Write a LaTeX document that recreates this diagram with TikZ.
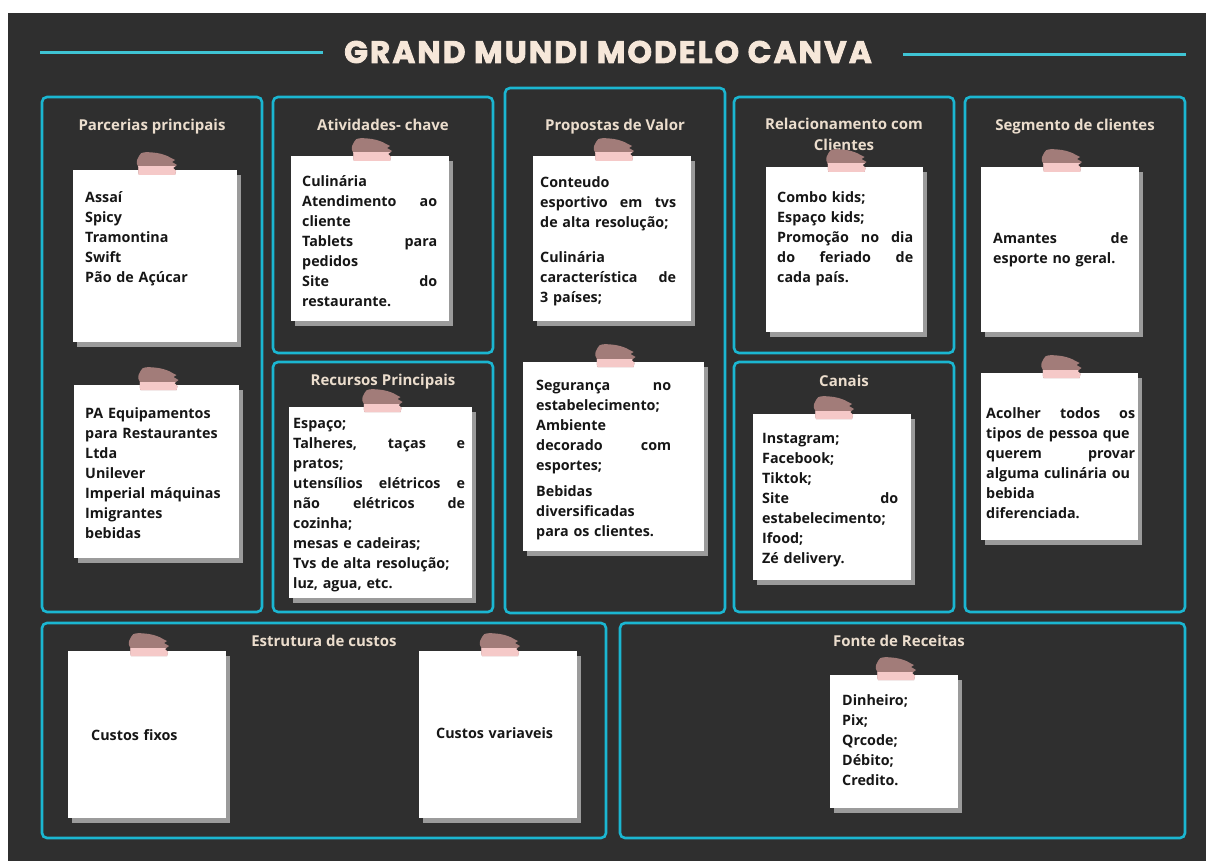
\documentclass[tikz,border=0pt]{standalone}
\usepackage{fontspec}
\setmainfont{Open Sans}
\newfontfamily\titlefont{Poppins}[LetterSpace=7, BoldFeatures={FakeBold=2.6}]
\usetikzlibrary{shadows}

\definecolor{bg}{HTML}{2F2F2F}
\definecolor{frame}{HTML}{1BB6D1}
\definecolor{rulecol}{HTML}{3FC4D4}
\definecolor{head}{HTML}{EBDDCD}
\definecolor{titlecol}{HTML}{F6E7D9}
\definecolor{ink}{HTML}{161616}
\definecolor{shadowcol}{HTML}{9B9B9B}
\definecolor{tapedark}{HTML}{A27C79}
\definecolor{tapelight}{HTML}{F5C9C8}

\tikzset{
  panel/.style={draw=frame, line width=2.6pt, rounded corners=5pt,
    anchor=north west, inner sep=0pt, outer sep=0pt},
  heading/.style={text=head, font=\bfseries\fontsize{15}{21}\selectfont,
    inner sep=0pt, anchor=base, align=center},
  note/.style={fill=white, anchor=north west, inner sep=0pt, outer sep=0pt,
    general shadow={fill=shadowcol, shadow xshift=4pt, shadow yshift=-5pt}},
  notetext/.style={anchor=north west, inner sep=0pt, text=ink,
    font=\bfseries\fontsize{14.3}{20}\selectfont, align=left, text width=#1},
  rulerline/.style={draw=rulecol, line width=3pt},
  tapeshape/.style={insert path={
    (-18,-14) .. controls (-17,-19) and (-8,-18) .. (0,-17)
    .. controls (6,-16) and (11,-14) .. (14,-12)
    -- (18,-10) -- (15,-8) -- (20,-5) -- (16,-2) -- (19,1) -- (18,5)
    -- (-18,5) .. controls (-20,1) and (-17,-2) .. (-20,-6)
    .. controls (-21,-10) and (-19,-11) .. (-18,-14) -- cycle}}
}

% sticky note: name, left, top, width, height
\newcommand\stickynote[5]{%
  \node[note, minimum width=#4pt, minimum height=#5pt] (#1) at (#2,#3) {};}
% strip of tape over the top edge of a note
\newcommand\tape[1]{%
  \begin{scope}[shift={(#1.north)}, xshift=2pt]
    \fill[tapedark, tapeshape];
    \begin{scope}
      \clip (-25,-3) rectangle (25,8);
      \fill[tapelight, tapeshape];
    \end{scope}
  \end{scope}}

\begin{document}
\begin{tikzpicture}[x=1pt, y=-1pt]
\useasboundingbox (0,0) rectangle (1206,861);
\fill[white] (0,0) rectangle (1206,861);
\fill[bg] (8,13) rectangle (1206,861);

% title and side rules
\node[font=\titlefont\bfseries\fontsize{31}{36}\selectfont, text=titlecol, inner sep=0pt]
  (title) at (608,52) {GRAND MUNDI MODELO CANVA};
\coordinate (lrA) at (40,53);  \coordinate (lrB) at (323,53);
\coordinate (rrA) at (903,55); \coordinate (rrB) at (1186,55);
\draw[rulerline] (lrA) -- (lrB);
\draw[rulerline] (rrA) -- (rrB);

% panels
\node[panel, minimum width=220pt, minimum height=515pt] (pParc) at (42,97) {};
\node[panel, minimum width=220pt, minimum height=256pt] (pAtiv) at (273,97) {};
\node[panel, minimum width=220pt, minimum height=250pt] (pRecu) at (273,362) {};
\node[panel, minimum width=220pt, minimum height=525pt] (pProp) at (505,88) {};
\node[panel, minimum width=220pt, minimum height=256pt] (pRela) at (734,97) {};
\node[panel, minimum width=220pt, minimum height=250pt] (pCana) at (734,362) {};
\node[panel, minimum width=220pt, minimum height=515pt] (pSegm) at (965,97) {};
\node[panel, minimum width=564pt, minimum height=215pt] (pCust) at (42,623) {};
\node[panel, minimum width=565pt, minimum height=215pt] (pRece) at (620,623) {};

% headings
\node[heading] (hParc) at (152,131) {Parcerias principais};
\node[heading] (hAtiv) at (383,131) {Atividades- chave};
\node[heading] (hRecu) at (383,385) {Recursos Principais};
\node[heading] (hProp) at (615,131) {Propostas de Valor};
\node[heading] (hRela) at (844,151) {Relacionamento com\\Clientes};
\node[heading] (hCana) at (844,386) {Canais};
\node[heading] (hSegm) at (1075,131) {Segmento de clientes};
\node[heading] (hCust) at (324,646) {Estrutura de custos};
\node[heading] (hRece) at (899,646) {Fonte de Receitas};

% notes
\stickynote{nParcA}{73}{170}{164}{172}
\stickynote{nParcB}{74}{385}{165}{173}
\stickynote{nAtiv}{291}{156}{158}{165}
\stickynote{nRecu}{289}{407}{183}{191}
\stickynote{nPropA}{533}{156}{158}{165}
\stickynote{nPropB}{523}{362}{181}{189}
\stickynote{nRela}{766}{167}{157}{165}
\stickynote{nSegmA}{981}{167}{158}{165}
\stickynote{nSegmB}{981}{373}{157}{167}
\stickynote{nCana}{753}{414}{158}{166}
\stickynote{nCustA}{68}{651}{158}{167}
\stickynote{nCustB}{419}{651}{158}{167}
\stickynote{nRece}{830}{675}{128}{133}

% note texts
\node[notetext=150pt] (tParcA) at (85,188) {\strut Assaí\\Spicy\\Tramontina\\Swift\\Pão de Açúcar};
\node[notetext=152pt] (tParcB) at (85,404) {\strut PA Equipamentos\\para Restaurantes\\Ltda\\Unilever\\\mbox{Imperial máquinas}\\Imigrantes\\bebidas};
\node[notetext=135pt] (tAtiv) at (302,172) {\strut Culinária\\Atendimento\hfill ao\\cliente\\Tablets\hfill para\\pedidos\\Site\hfill do\\restaurante.};
\node[notetext=172pt] (tRecu) at (293,414) {\strut Espaço;\\Talheres,\hfill taças\hfill e\\pratos;\\utensílios\hfill elétricos\hfill e\\não\hfill elétricos\hfill de\\cozinha;\\mesas e cadeiras;\\\mbox{Tvs de alta resolução;}\\luz, agua, etc.};
\node[notetext=136pt] (tPropA) at (540,173) {\strut Conteudo\\esportivo\hfill em\hfill tvs\\\mbox{de alta resolução;}\\[15pt]Culinária\\característica\hfill de\\3 países;};
\node[notetext=135pt] (tPropB) at (536,376) {\strut Segurança\hfill no\\\mbox{estabelecimento;}\\Ambiente\\decorado\hfill com\\esportes;\\[6pt]Bebidas\\diversificadas\\\mbox{para os clientes.}};
\node[notetext=136pt] (tRela) at (777,188) {\strut Combo kids;\\Espaço kids;\\Promoção\hfill no\hfill dia\\do\hfill feriado\hfill de\\cada país.};
\node[notetext=135pt] (tSegmA) at (993,229) {\strut Amantes\hfill de\\\mbox{esporte no geral.}};
\node[notetext=149pt] (tSegmB) at (986,404) {\strut Acolher\hfill todos\hfill os\\\mbox{tipos de pessoa que}\\querem\hfill provar\\\mbox{alguma culinária ou}\\bebida\\diferenciada.};
\node[notetext=136pt] (tCana) at (762,429) {\strut Instagram;\\Facebook;\\Tiktok;\\Site\hfill do\\\mbox{estabelecimento;}\\Ifood;\\Zé delivery.};
\node[notetext=130pt] (tCustA) at (91,726) {\strut Custos fixos};
\node[notetext=140pt] (tCustB) at (436,724) {\strut Custos variaveis};
\node[notetext=110pt] (tRece) at (842,691) {\strut Dinheiro;\\Pix;\\Qrcode;\\Débito;\\Credito.};

% tape strips
\tape{nParcA} \tape{nParcB} \tape{nAtiv} \tape{nRecu}
\tape{nPropA} \tape{nPropB} \tape{nRela} \tape{nSegmA}
\tape{nSegmB} \tape{nCana} \tape{nCustA} \tape{nCustB} \tape{nRece}
\end{tikzpicture}
\end{document}
